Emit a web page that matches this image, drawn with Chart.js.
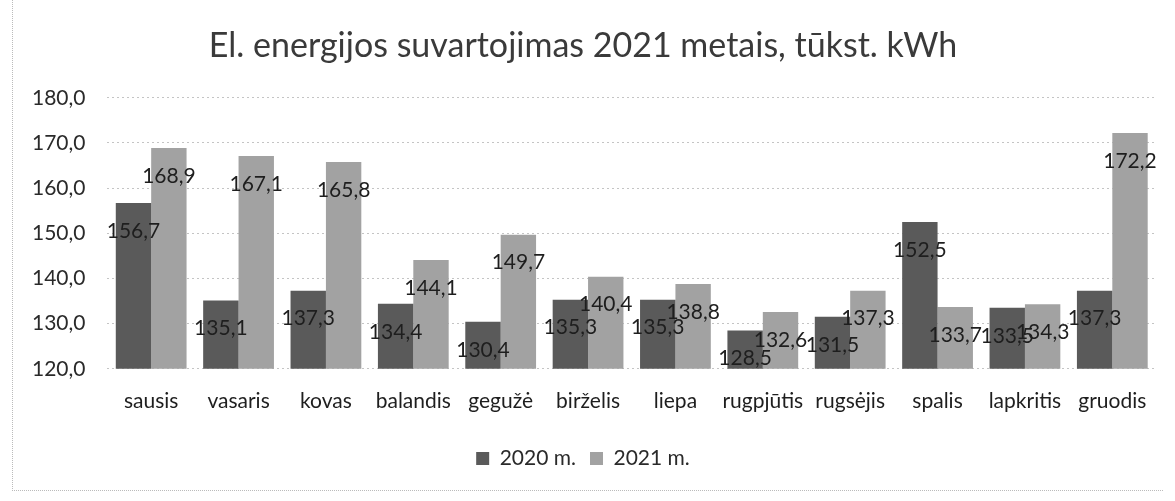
<!DOCTYPE html>
<html>
<head>
<meta charset="utf-8">
<script src="https://cdn.jsdelivr.net/npm/chart.js@4"></script>
<style>
html,body{margin:0;padding:0;background:#fff;}
#wrap{position:relative;width:1175px;height:501px;}
#frame{position:absolute;left:12px;top:0;width:1150px;height:490px;border-left:1px dotted #bbb;border-bottom:1px dotted #bbb;pointer-events:none;}
</style>
</head>
<body>
<div id="wrap">
<canvas id="c" width="1175" height="501"></canvas>
<div id="frame"></div>
</div>
<script>
const categories = ["sausis","vasaris","kovas","balandis","gegužė","birželis","liepa","rugpjūtis","rugsėjis","spalis","lapkritis","gruodis"];
const values2020 = [156.7,135.1,137.3,134.4,130.4,135.3,135.3,128.5,131.5,152.5,133.5,137.3];
const values2021 = [168.9,167.1,165.8,144.1,149.7,140.4,138.8,132.6,137.3,133.7,134.3,172.2];
const seriesNames = ["2020 m.","2021 m."];
const titleText = "El. energijos suvartojimas 2021 metais, tūkst. kWh";
const yMin = 120, yMax = 180, yStep = 10;

const fmt = v => v.toFixed(1).replace('.', ',');

const labelPlugin = {
  id: 'barLabels',
  afterDatasetsDraw(chart) {
    const ctx = chart.ctx;
    ctx.save();
    ctx.font = '21px Lato';
    ctx.fillStyle = '#1e1e1e';
    ctx.textAlign = 'center';
    ctx.textBaseline = 'middle';
    chart.data.datasets.forEach((ds, i) => {
      const meta = chart.getDatasetMeta(i);
      meta.data.forEach((el, j) => {
        ctx.fillText(fmt(ds.data[j]), el.x, el.y + 28);
      });
    });
    ctx.restore();
  }
};

new Chart(document.getElementById('c'), {
  type: 'bar',
  data: {
    labels: categories,
    datasets: [
      { label: seriesNames[0], data: values2020, backgroundColor: '#5a5a5a', borderWidth: 0 },
      { label: seriesNames[1], data: values2021, backgroundColor: '#a2a2a2', borderWidth: 0 }
    ]
  },
  options: {
    responsive: false,
    animation: false,
    layout: { padding: { left: 10, right: 19, top: 8, bottom: 22 } },
    datasets: { bar: { barPercentage: 1.0, categoryPercentage: 0.81 } },
    scales: {
      y: {
        min: yMin, max: yMax,
        ticks: { stepSize: yStep, callback: v => fmt(v), color: '#2a2a2a', font: { family: 'Lato', size: 21 }, padding: 22 },
        grid: { color: '#c4c4c4', drawTicks: false, lineWidth: 1 },
        border: { display: false, dash: [2,3] }
      },
      x: {
        ticks: { color: '#1e1e1e', font: { family: 'Lato', size: 21 }, padding: 20, maxRotation: 0, autoSkip: false },
        grid: { display: false, drawTicks: false },
        border: { display: false }
      }
    },
    plugins: {
      title: { display: true, text: titleText, color: '#3a3a3a', font: { family: 'Lato', size: 34, weight: 'normal' }, padding: { top: 18, bottom: 31 } },
      legend: { position: 'bottom', labels: { color: '#2a2a2a', font: { family: 'Lato', size: 21 }, boxWidth: 13, boxHeight: 13, padding: 14 } },
      tooltip: { enabled: false }
    }
  },
  plugins: [labelPlugin]
});
</script>
</body>
</html>
